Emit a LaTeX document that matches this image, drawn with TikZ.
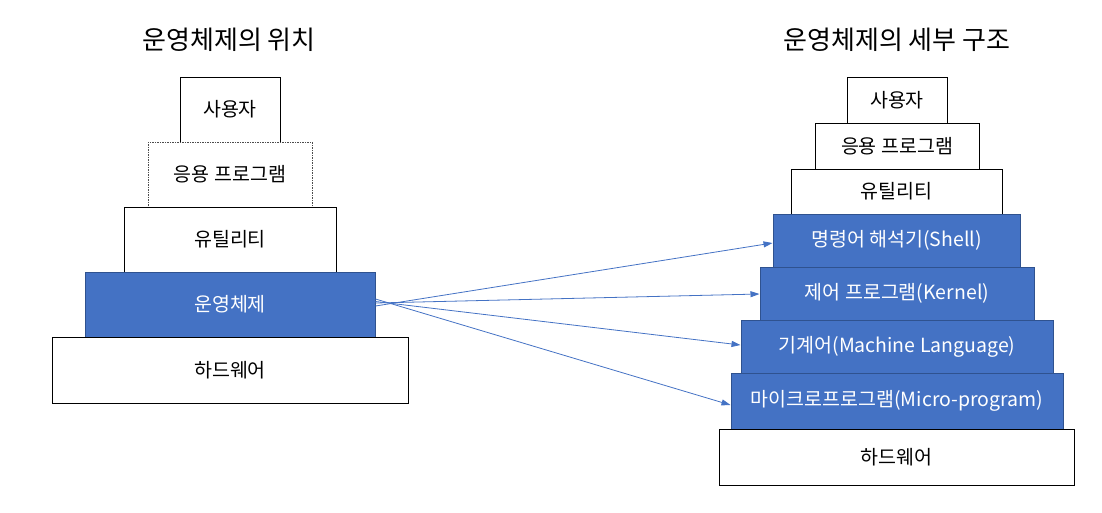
\documentclass[tikz,border=0pt]{standalone}
\usepackage{fontspec}
\setmainfont{Noto Sans CJK KR}
\usetikzlibrary{arrows.meta}
\definecolor{osblue}{HTML}{4472C4}
\definecolor{osedge}{HTML}{2F528F}
\begin{document}
\begin{tikzpicture}[x=1pt,y=-1pt,
  box/.style={draw=black,line width=1pt,fill=white,inner sep=0pt,font=\fontsize{19.5}{22}\selectfont,text=black},
  dbox/.style={box,draw=black!70,dash pattern=on 1.5pt off 1pt},
  bbox/.style={box,draw=osedge,fill=osblue,text=white},
  conn/.style={draw=osblue,line width=0.8pt,-{Triangle[length=9pt,width=6pt]}},
  ttl/.style={font=\fontsize{26}{30}\selectfont,text=black}]
\useasboundingbox (0,0) rectangle (1102,512);
% titles
\node[ttl] (t1) at (229,40) {운영체제의 위치};
\node[ttl] (t2) at (897,40) {운영체제의 세부 구조};
% left stack
\node[box,minimum width=100pt,minimum height=65pt] (lu) at (230,109.5) {사용자};
\node[dbox,minimum width=164pt,minimum height=65pt] (la) at (230,174.5) {응용 프로그램};
\node[box,minimum width=212pt,minimum height=65pt] (lt) at (230,239.5) {유틸리티};
\node[bbox,minimum width=290pt,minimum height=65pt] (los) at (230,304.5) {운영체제};
\node[box,minimum width=356pt,minimum height=66pt] (lh) at (230,370) {하드웨어};
% right stack
\node[box,minimum width=100pt,minimum height=46pt] (ru) at (897,100) {사용자};
\node[box,minimum width=164pt,minimum height=46pt] (ra) at (897,146) {응용 프로그램};
\node[box,minimum width=211pt,minimum height=45pt] (rt) at (896.5,191.5) {유틸리티};
\node[bbox,minimum width=247pt,minimum height=53pt] (rs) at (896.5,240.5) {명령어 해석기(Shell)};
\node[bbox,minimum width=274pt,minimum height=53pt] (rk) at (897,293.5) {제어 프로그램(Kernel)};
\node[bbox,minimum width=312pt,minimum height=53pt] (rm) at (897,346.5) {기계어(Machine Language)};
\node[bbox,minimum width=332pt,minimum height=56pt] (rp) at (897,401) {마이크로프로그램(Micro-program)};
\node[box,minimum width=355pt,minimum height=56pt] (rh) at (896.5,457) {하드웨어};
% connectors
\draw[conn] ([yshift=-1.5pt]los.east) -- ([yshift=-2.5pt]rs.west);
\draw[conn] ([yshift=1.5pt]los.east) -- ([yshift=-0.5pt]rk.west);
\draw[conn] ([yshift=3pt]los.east) -- ([yshift=1.5pt]rm.west);
\draw[conn] ([yshift=5.5pt]los.east) -- ([yshift=-4pt]rp.west);
\end{tikzpicture}
\end{document}
